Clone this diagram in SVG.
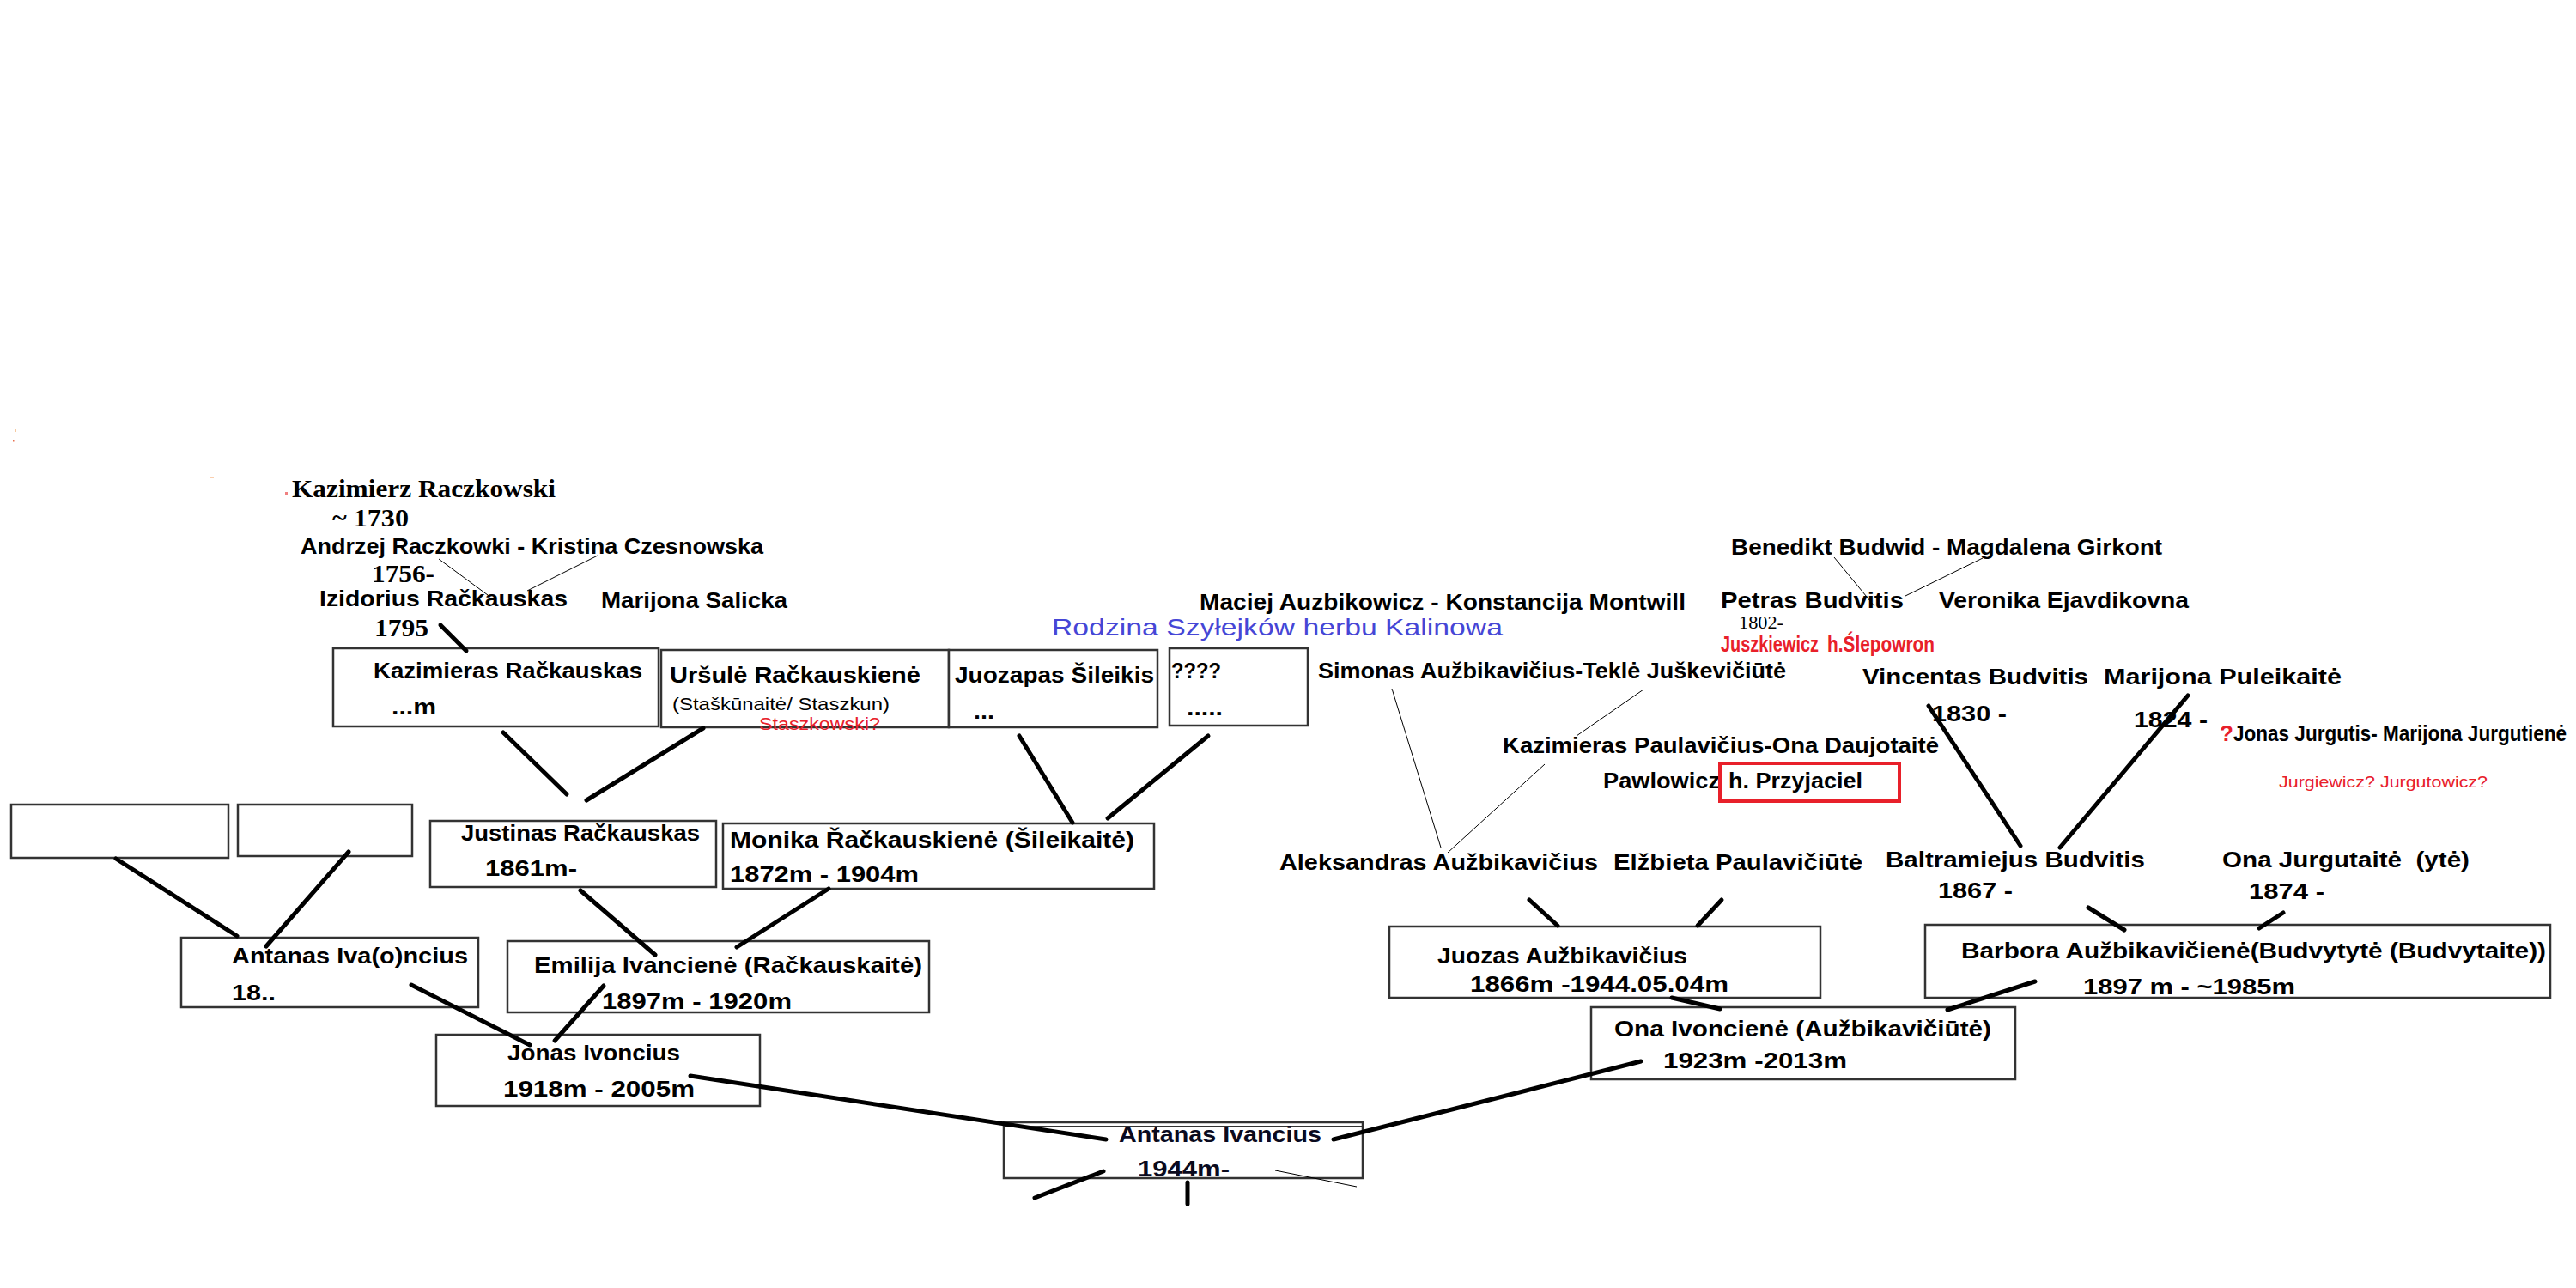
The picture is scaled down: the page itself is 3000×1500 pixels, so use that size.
<svg xmlns="http://www.w3.org/2000/svg" width="3000" height="1500" viewBox="0 0 3000 1500">
<style>
.t{font-family:"Liberation Sans",Arial,sans-serif;font-weight:bold;font-size:26px;fill:#000}
.r{font-family:"Liberation Sans",Arial,sans-serif;font-weight:normal;fill:#000}
.s{font-family:"Liberation Serif","Times New Roman",serif;font-weight:bold;font-size:30px;fill:#000}
.red{fill:#e8202a}
.box{fill:#fff;stroke:#333;stroke-width:2.5}
.thick{stroke:#000;stroke-width:5;stroke-linecap:round;fill:none}
.thin{stroke:#000;stroke-width:1;fill:none}
</style>
<rect width="3000" height="1500" fill="#fff"/>
<g id="specks">
<rect x="17" y="500" width="2" height="3" fill="#f5c9a0"/>
<rect x="15" y="513" width="1.5" height="1.5" fill="#e87050"/>
<rect x="245" y="555" width="4" height="1.5" fill="#f5a060"/>
<rect x="332" y="573" width="3" height="3" fill="#f08080"/>
</g>
<g id="nodes">
<g id="kazimierz-raczkowski">
<text class="s" x="340" y="579" textLength="307" lengthAdjust="spacingAndGlyphs">Kazimierz Raczkowski</text>
<text class="s" x="387" y="613" textLength="89" lengthAdjust="spacingAndGlyphs">~ 1730</text>
</g>
<g id="andrzej-kristina">
<text class="t" x="350" y="645" textLength="539" lengthAdjust="spacingAndGlyphs">Andrzej Raczkowki - Kristina Czesnowska</text>
<text class="s" x="433" y="678" textLength="73" lengthAdjust="spacingAndGlyphs">1756-</text>
</g>
<g id="izidorius">
<text class="t" x="372" y="706" textLength="289" lengthAdjust="spacingAndGlyphs">Izidorius Račkauskas</text>
<text class="s" x="436" y="741" textLength="63" lengthAdjust="spacingAndGlyphs">1795</text>
</g>
<g id="marijona-salicka">
<text class="t" x="700" y="708" textLength="217" lengthAdjust="spacingAndGlyphs">Marijona Salicka</text>
</g>
<g id="kazimieras">
<rect class="box" x="388" y="755" width="379" height="91"/>
<text class="t" x="435" y="790" textLength="313" lengthAdjust="spacingAndGlyphs">Kazimieras Račkauskas</text>
<text class="t" x="456" y="832" textLength="52" lengthAdjust="spacingAndGlyphs">...m</text>
</g>
<g id="ursule">
<rect class="box" x="770" y="757" width="335" height="90"/>
<text class="t" x="780" y="795" textLength="292" lengthAdjust="spacingAndGlyphs">Uršulė Račkauskienė</text>
<text class="r" x="783" y="827" font-size="21" textLength="253" lengthAdjust="spacingAndGlyphs">(Staškūnaitė/ Staszkun)</text>
<text class="r red" x="884" y="850" font-size="20" textLength="141" lengthAdjust="spacingAndGlyphs">Staszkowski?</text>
</g>
<g id="juozapas">
<rect class="box" x="1105" y="757" width="243" height="90"/>
<text class="t" x="1112" y="795" textLength="232" lengthAdjust="spacingAndGlyphs">Juozapas Šileikis</text>
<text class="t" x="1134" y="837" textLength="24" lengthAdjust="spacingAndGlyphs">...</text>
</g>
<g id="unknown">
<rect class="box" x="1362" y="755" width="161" height="90"/>
<text class="t" x="1364" y="790" textLength="58" lengthAdjust="spacingAndGlyphs">????</text>
<text class="t" x="1382" y="833" textLength="42" lengthAdjust="spacingAndGlyphs">.....</text>
</g>
<g id="blank-1"><rect class="box" x="13" y="937" width="253" height="62"/></g>
<g id="blank-2"><rect class="box" x="277" y="937" width="203" height="60"/></g>
<g id="justinas">
<rect class="box" x="501" y="956" width="333" height="77"/>
<text class="t" x="537" y="979" textLength="278" lengthAdjust="spacingAndGlyphs">Justinas Račkauskas</text>
<text class="t" x="565" y="1020" textLength="107" lengthAdjust="spacingAndGlyphs">1861m-</text>
</g>
<g id="monika">
<rect class="box" x="842" y="959" width="502" height="76"/>
<text class="t" x="850" y="987" textLength="471" lengthAdjust="spacingAndGlyphs">Monika Řačkauskienė (Šileikaitė)</text>
<text class="t" x="850" y="1027" textLength="220" lengthAdjust="spacingAndGlyphs">1872m - 1904m</text>
</g>
<g id="antanas-ivoncius">
<rect class="box" x="211" y="1092" width="346" height="81"/>
<text class="t" x="270" y="1122" textLength="275" lengthAdjust="spacingAndGlyphs">Antanas Iva(o)ncius</text>
<text class="t" x="270" y="1165" textLength="51" lengthAdjust="spacingAndGlyphs">18..</text>
</g>
<g id="emilija">
<rect class="box" x="591" y="1096" width="491" height="83"/>
<text class="t" x="622" y="1133" textLength="452" lengthAdjust="spacingAndGlyphs">Emilija Ivancienė (Račkauskaitė)</text>
<text class="t" x="701" y="1175" textLength="221" lengthAdjust="spacingAndGlyphs">1897m - 1920m</text>
</g>
<g id="jonas">
<rect class="box" x="508" y="1205" width="377" height="83"/>
<text class="t" x="591" y="1235" textLength="201" lengthAdjust="spacingAndGlyphs">Jonas Ivoncius</text>
<text class="t" x="586" y="1277" textLength="223" lengthAdjust="spacingAndGlyphs">1918m - 2005m</text>
</g>
<g id="antanas-ivancius">
<rect class="box" x="1169" y="1307" width="418" height="65"/>
<line x1="1169" y1="1312" x2="1587" y2="1312" stroke="#333" stroke-width="2"/>
<text class="t" x="1303" y="1330" font-size="27" style="fill:#0a0a1e" textLength="236" lengthAdjust="spacingAndGlyphs">Antanas Ivancius</text>
<text class="t" x="1325" y="1370" font-size="27" style="fill:#0a0a1e" textLength="107" lengthAdjust="spacingAndGlyphs">1944m-</text>
</g>
<g id="maciej-konstancija">
<text class="t" x="1397" y="710" textLength="566" lengthAdjust="spacingAndGlyphs">Maciej Auzbikowicz - Konstancija Montwill</text>
</g>
<g id="rodzina">
<text class="r" x="1225" y="740" font-size="27" style="fill:#4646d6" textLength="525" lengthAdjust="spacingAndGlyphs">Rodzina Szyłejków herbu Kalinowa</text>
</g>
<g id="simonas-tekle">
<text class="t" x="1535" y="790" textLength="545" lengthAdjust="spacingAndGlyphs">Simonas Aužbikavičius-Teklė Juškevičiūtė</text>
</g>
<g id="kazimieras-ona">
<text class="t" x="1750" y="877" textLength="508" lengthAdjust="spacingAndGlyphs">Kazimieras Paulavičius-Ona Daujotaitė</text>
<text class="t" x="1867" y="918" textLength="136" lengthAdjust="spacingAndGlyphs">Pawlowicz</text>
<rect x="2003" y="889" width="209" height="44" fill="none" stroke="#e8202a" stroke-width="4"/>
<text class="t" x="2013" y="918" textLength="156" lengthAdjust="spacingAndGlyphs">h. Przyjaciel</text>
</g>
<g id="aleksandras">
<text class="t" x="1490" y="1013" textLength="371" lengthAdjust="spacingAndGlyphs">Aleksandras Aužbikavičius</text>
</g>
<g id="elzbieta">
<text class="t" x="1879" y="1013" textLength="290" lengthAdjust="spacingAndGlyphs">Elžbieta Paulavičiūtė</text>
</g>
<g id="juozas">
<rect class="box" x="1618" y="1079" width="502" height="83"/>
<text class="t" x="1674" y="1122" textLength="291" lengthAdjust="spacingAndGlyphs">Juozas Aužbikavičius</text>
<text class="t" x="1712" y="1155" textLength="301" lengthAdjust="spacingAndGlyphs">1866m -1944.05.04m</text>
</g>
<g id="ona-ivonciene">
<rect class="box" x="1853" y="1173" width="494" height="84"/>
<text class="t" x="1880" y="1207" textLength="439" lengthAdjust="spacingAndGlyphs">Ona Ivoncienė (Aužbikavičiūtė)</text>
<text class="t" x="1937" y="1244" textLength="214" lengthAdjust="spacingAndGlyphs">1923m -2013m</text>
</g>
<g id="benedikt-magdalena">
<text class="t" x="2016" y="646" textLength="502" lengthAdjust="spacingAndGlyphs">Benedikt Budwid - Magdalena Girkont</text>
</g>
<g id="petras">
<text class="t" x="2004" y="708" textLength="213" lengthAdjust="spacingAndGlyphs">Petras Budvitis</text>
<text x="2025" y="732" font-family="'Liberation Serif','Times New Roman',serif" font-size="21" fill="#000" textLength="52" lengthAdjust="spacingAndGlyphs">1802-</text>
<text class="t red" x="2004" y="759" font-size="19" textLength="114" lengthAdjust="spacingAndGlyphs">Juszkiewicz</text>
<text class="t red" x="2128" y="759" font-size="19" textLength="125" lengthAdjust="spacingAndGlyphs">h.Ślepowron</text>
</g>
<g id="veronika">
<text class="t" x="2258" y="708" textLength="291" lengthAdjust="spacingAndGlyphs">Veronika Ejavdikovna</text>
</g>
<g id="vincentas">
<text class="t" x="2169" y="797" textLength="263" lengthAdjust="spacingAndGlyphs">Vincentas Budvitis</text>
<text class="t" x="2250" y="840" textLength="87" lengthAdjust="spacingAndGlyphs">1830 -</text>
</g>
<g id="marijona-puleikaite">
<text class="t" x="2450" y="797" textLength="277" lengthAdjust="spacingAndGlyphs">Marijona Puleikaitė</text>
<text class="t" x="2485" y="847" textLength="86" lengthAdjust="spacingAndGlyphs">1824 -</text>
</g>
<g id="jonas-marijona-jurgutis">
<text class="t red" x="2585" y="863" font-size="27">?</text>
<text class="t" x="2601" y="863" font-size="21" textLength="388" lengthAdjust="spacingAndGlyphs">Jonas Jurgutis- Marijona Jurgutienė</text>
<text class="r red" x="2654" y="917" font-size="19" textLength="243" lengthAdjust="spacingAndGlyphs">Jurgiewicz? Jurgutowicz?</text>
</g>
<g id="baltramiejus">
<text class="t" x="2196" y="1010" textLength="302" lengthAdjust="spacingAndGlyphs">Baltramiejus Budvitis</text>
<text class="t" x="2257" y="1046" textLength="87" lengthAdjust="spacingAndGlyphs">1867 -</text>
</g>
<g id="ona-jurgutaite">
<text class="t" x="2588" y="1010" textLength="288" lengthAdjust="spacingAndGlyphs">Ona Jurgutaitė&#160; (ytė)</text>
<text class="t" x="2619" y="1047" textLength="88" lengthAdjust="spacingAndGlyphs">1874 -</text>
</g>
<g id="barbora">
<rect class="box" x="2242" y="1077" width="728" height="85"/>
<text class="t" x="2284" y="1116" textLength="681" lengthAdjust="spacingAndGlyphs">Barbora Aužbikavičienė(Budvytytė (Budvytaite))</text>
<text class="t" x="2426" y="1158" textLength="247" lengthAdjust="spacingAndGlyphs">1897 m - ~1985m</text>
</g>
</g>
<g id="connectors">
<line class="thin" x1="511" y1="651" x2="568" y2="693"/>
<line class="thin" x1="696" y1="647" x2="614" y2="688"/>
<line class="thick" x1="513" y1="728" x2="543" y2="758"/>
<line class="thick" x1="586" y1="853" x2="660" y2="925"/>
<line class="thick" x1="819" y1="848" x2="683" y2="932"/>
<line class="thick" x1="1187" y1="857" x2="1249" y2="958"/>
<line class="thick" x1="1407" y1="857" x2="1290" y2="953"/>
<line class="thick" x1="135" y1="1000" x2="276" y2="1090"/>
<line class="thick" x1="406" y1="992" x2="310" y2="1102"/>
<line class="thick" x1="676" y1="1037" x2="763" y2="1112"/>
<line class="thick" x1="965" y1="1035" x2="858" y2="1103"/>
<line class="thick" x1="479" y1="1147" x2="617" y2="1217"/>
<line class="thick" x1="703" y1="1148" x2="646" y2="1212"/>
<line class="thick" x1="804" y1="1253" x2="1288" y2="1327"/>
<line class="thick" x1="1911" y1="1236" x2="1553" y2="1327"/>
<line class="thick" x1="1205" y1="1395" x2="1285" y2="1364"/>
<line class="thick" x1="1383" y1="1377" x2="1383" y2="1402"/>
<line class="thin" x1="1485" y1="1363" x2="1580" y2="1382" stroke-width="2"/>
<line class="thin" x1="1621" y1="802" x2="1678" y2="987"/>
<line class="thin" x1="1914" y1="803" x2="1836" y2="857"/>
<line class="thin" x1="1799" y1="890" x2="1686" y2="993"/>
<line class="thick" x1="1781" y1="1048" x2="1814" y2="1078"/>
<line class="thick" x1="2005" y1="1048" x2="1977" y2="1078"/>
<line class="thick" x1="1947" y1="1162" x2="2003" y2="1175"/>
<line class="thick" x1="2370" y1="1143" x2="2268" y2="1176"/>
<line class="thin" x1="2136" y1="649" x2="2183" y2="706"/>
<line class="thin" x1="2309" y1="650" x2="2219" y2="694"/>
<line class="thick" x1="2246" y1="822" x2="2353" y2="985"/>
<line class="thick" x1="2548" y1="810" x2="2399" y2="987"/>
<line class="thick" x1="2432" y1="1057" x2="2474" y2="1083"/>
<line class="thick" x1="2659" y1="1063" x2="2631" y2="1081"/>
</g>
</svg>
